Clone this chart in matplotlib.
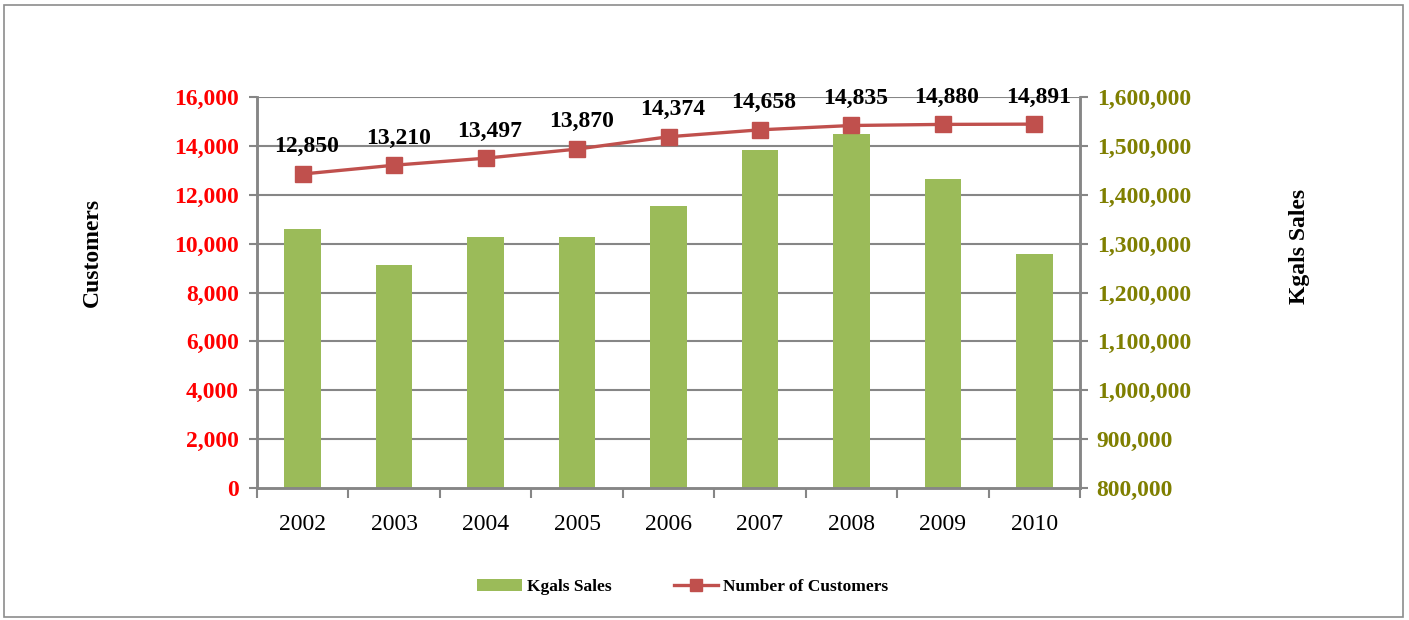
import matplotlib
matplotlib.use("Agg")
import matplotlib.pyplot as plt
from matplotlib.patches import Rectangle
from matplotlib.lines import Line2D
from matplotlib.patches import Patch
from matplotlib.ticker import FuncFormatter, FixedLocator, NullFormatter

years = ["2002", "2003", "2004", "2005", "2006", "2007", "2008", "2009", "2010"]
customers = [12850, 13210, 13497, 13870, 14374, 14658, 14835, 14880, 14891]
kgals_sales = [1330000, 1256000, 1313000, 1313000, 1377000, 1491000, 1524000, 1432000, 1279000]

plt.rcParams["font.family"] = ["Liberation Serif", "DejaVu Serif"]

BAR_GREEN = "#9BBB59"
LINE_RED = "#C0504D"
GRID_GRAY = "#868686"
OLIVE = "#7F7F00"
FS = 17

fig = plt.figure(figsize=(14.09, 6.2), dpi=100)
fig.patch.set_facecolor("white")
fig.add_artist(Rectangle((0.003, 0.005), 0.993, 0.987, transform=fig.transFigure,
                         fill=False, edgecolor="#8C8C8C", linewidth=1.2))

ax = fig.add_axes([0.1824, 0.2129, 0.5841, 0.6306])
ax2 = ax.twinx()
x = list(range(len(years)))

# bars on the secondary (Kgals) axis, drawn behind the customer line
ax2.bar(x, kgals_sales, width=0.40, color=BAR_GREEN, zorder=2)
ax2.set_ylim(800000, 1600000)
ax2.set_yticks(range(800000, 1600001, 100000))
ax2.yaxis.set_major_formatter(FuncFormatter(lambda v, p: f"{int(v):,}"))
for lab in ax2.get_yticklabels():
    lab.set_color(OLIVE)
    lab.set_fontweight("bold")
    lab.set_fontsize(FS)
ax2.tick_params(axis="y", direction="out", length=6, width=1.5, color=GRID_GRAY, pad=6)

ax.set_zorder(ax2.get_zorder() + 1)
ax.patch.set_visible(False)

ax.set_ylim(0, 16000)
ax.set_xlim(-0.5, len(years) - 0.5)
ax.set_yticks(range(0, 16001, 2000))
ax.yaxis.set_major_formatter(FuncFormatter(lambda v, p: f"{int(v):,}"))
for lab in ax.get_yticklabels():
    lab.set_color("red")
    lab.set_fontweight("bold")
    lab.set_fontsize(FS)
ax.tick_params(axis="y", direction="out", length=6, width=1.5, color=GRID_GRAY, pad=7)

# horizontal gridlines at every customer tick
for v in range(2000, 16001, 2000):
    ax2.axhline(800000 + v * 50, color=GRID_GRAY, linewidth=1.5, zorder=1)

ax.xaxis.set_major_locator(FixedLocator([i - 0.5 for i in range(len(years) + 1)]))
ax.xaxis.set_major_formatter(NullFormatter())
ax.xaxis.set_minor_locator(FixedLocator(x))
ax.set_xticklabels(years, minor=True)
ax.tick_params(axis="x", which="major", direction="out", length=7, width=1.5, color=GRID_GRAY)
ax.tick_params(axis="x", which="minor", length=0, labelsize=FS, pad=19)

for a in (ax, ax2):
    a.spines["top"].set_visible(False)
    for s in ("left", "right", "bottom"):
        a.spines[s].set_color(GRID_GRAY)
        a.spines[s].set_linewidth(1.8)

ax.plot(x, customers, color=LINE_RED, linewidth=2.4, marker="s", markersize=11,
        markerfacecolor=LINE_RED, markeredgecolor=LINE_RED, zorder=5)
for xi, c in zip(x, customers):
    ax.annotate(f"{c:,}", (xi, c), xytext=(3, 12), textcoords="offset points",
                ha="center", va="bottom", fontsize=FS, fontweight="bold",
                color="black", annotation_clip=False)

# axis titles
fig.text(92 / 1409, 1 - 252 / 620, "Customers", rotation=90, ha="center", va="center",
         fontsize=FS, fontweight="bold")
fig.text(1300 / 1409, 1 - 246 / 620, "Kgals Sales", rotation=90, ha="center", va="center",
         fontsize=FS, fontweight="bold")

handles = [Patch(facecolor=BAR_GREEN, edgecolor="none", label="Kgals Sales"),
           Line2D([0], [0], color=LINE_RED, linewidth=2.4, marker="s", markersize=8,
                  label="Number of Customers")]
fig.legend(handles=handles, loc="center", bbox_to_anchor=(683 / 1409, 1 - 587 / 620), ncol=2,
           frameon=False, prop={"weight": "bold", "size": 12.5}, handlelength=2.55,
           handletextpad=0.3, columnspacing=3.6, borderpad=0, borderaxespad=0)

fig.savefig("out.png", dpi=100, facecolor="white")
